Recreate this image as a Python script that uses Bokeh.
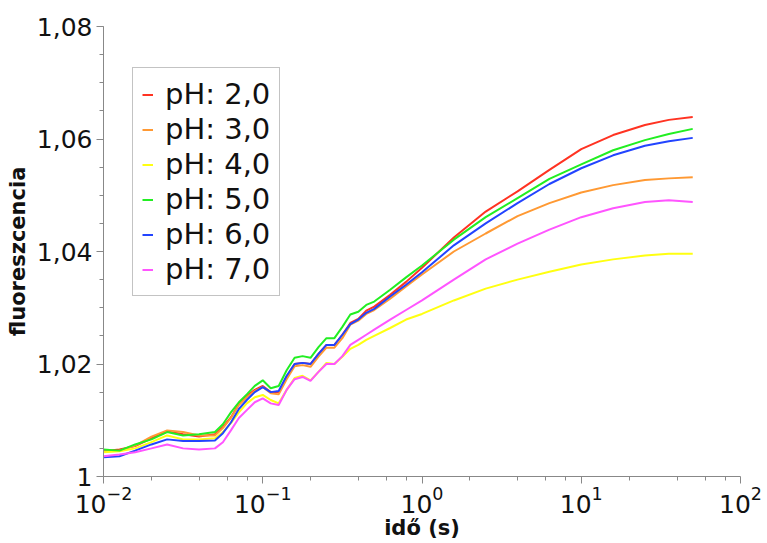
from bokeh.plotting import figure
from bokeh.models import (Range1d, FixedTicker, CustomJSTickFormatter, Legend, LegendItem,
                          LogTickFormatter, ColumnDataSource)
from bokeh.embed import file_html
from bokeh.resources import INLINE

# time axis (s)
time_s = [0.0100, 0.0126, 0.0158, 0.0200, 0.0251, 0.0316, 0.0398, 0.0501, 0.0562, 0.0631,
          0.0708, 0.0794, 0.0891, 0.1000, 0.1122, 0.1259, 0.1413, 0.1585, 0.1778, 0.1995,
          0.2239, 0.2512, 0.2818, 0.3162, 0.3548, 0.3981, 0.4467, 0.5012, 0.6310, 0.7943,
          1.0000, 1.585, 2.512, 3.981, 6.310, 10.00, 15.85, 25.12, 35.48, 50.12]

ph_labels = ["pH: 2,0", "pH: 3,0", "pH: 4,0", "pH: 5,0", "pH: 6,0", "pH: 7,0"]

ph2 = [1.0045, 1.0048, 1.0054, 1.0068, 1.0080, 1.0075, 1.0071, 1.0075, 1.0088, 1.0105,
       1.0129, 1.0143, 1.0154, 1.0161, 1.0150, 1.0150, 1.0177, 1.0200, 1.0202, 1.0200,
       1.0218, 1.0234, 1.0234, 1.0252, 1.0273, 1.0280, 1.0295, 1.0302, 1.0323, 1.0346,
       1.0371, 1.0425, 1.0471, 1.0507, 1.0545, 1.0582, 1.0607, 1.0625, 1.0634, 1.0639]
ph3 = [1.0045, 1.0046, 1.0055, 1.0071, 1.0082, 1.0079, 1.0073, 1.0073, 1.0086, 1.0104,
       1.0127, 1.0141, 1.0152, 1.0159, 1.0148, 1.0146, 1.0173, 1.0196, 1.0198, 1.0195,
       1.0213, 1.0229, 1.0229, 1.0246, 1.0270, 1.0277, 1.0289, 1.0296, 1.0316, 1.0338,
       1.0359, 1.0400, 1.0432, 1.0463, 1.0486, 1.0505, 1.0518, 1.0527, 1.0530, 1.0532]
ph4 = [1.0043, 1.0045, 1.0050, 1.0061, 1.0073, 1.0066, 1.0066, 1.0068, 1.0079, 1.0095,
       1.0114, 1.0130, 1.0141, 1.0145, 1.0136, 1.0130, 1.0154, 1.0175, 1.0179, 1.0171,
       1.0186, 1.0202, 1.0200, 1.0213, 1.0227, 1.0234, 1.0243, 1.0250, 1.0264, 1.0279,
       1.0289, 1.0313, 1.0334, 1.0350, 1.0364, 1.0377, 1.0386, 1.0393, 1.0396, 1.0396]
ph5 = [1.0048, 1.0046, 1.0057, 1.0066, 1.0079, 1.0073, 1.0075, 1.0079, 1.0093, 1.0114,
       1.0132, 1.0146, 1.0161, 1.0171, 1.0157, 1.0161, 1.0189, 1.0211, 1.0214, 1.0211,
       1.0230, 1.0246, 1.0246, 1.0266, 1.0288, 1.0293, 1.0305, 1.0311, 1.0332, 1.0354,
       1.0375, 1.0421, 1.0461, 1.0495, 1.0529, 1.0555, 1.0580, 1.0598, 1.0609, 1.0618]
ph6 = [1.0034, 1.0036, 1.0046, 1.0057, 1.0066, 1.0063, 1.0063, 1.0064, 1.0077, 1.0096,
       1.0120, 1.0136, 1.0150, 1.0159, 1.0150, 1.0152, 1.0179, 1.0200, 1.0202, 1.0200,
       1.0218, 1.0234, 1.0234, 1.0252, 1.0271, 1.0279, 1.0291, 1.0298, 1.0320, 1.0341,
       1.0363, 1.0411, 1.0450, 1.0486, 1.0520, 1.0548, 1.0571, 1.0588, 1.0596, 1.0602]
ph7 = [1.0036, 1.0039, 1.0043, 1.0050, 1.0057, 1.0050, 1.0048, 1.0050, 1.0061, 1.0082,
       1.0104, 1.0118, 1.0132, 1.0139, 1.0130, 1.0127, 1.0154, 1.0173, 1.0177, 1.0170,
       1.0186, 1.0200, 1.0200, 1.0214, 1.0234, 1.0243, 1.0252, 1.0261, 1.0279, 1.0296,
       1.0313, 1.0350, 1.0386, 1.0414, 1.0439, 1.0461, 1.0477, 1.0488, 1.0491, 1.0488]

series = [ph2, ph3, ph4, ph5, ph6, ph7]
colors = ["#ff3322", "#ff9933", "#ffff11", "#22ee22", "#2244ff", "#ff55ff"]

x_ticks = [0.01, 0.1, 1, 10, 100]
x_minor = [m * d for d in [0.01, 0.1, 1, 10] for m in [2, 4, 6, 8]]
y_ticks = [1.0, 1.02, 1.04, 1.06, 1.08]
y_minor = [1.0 + 0.005 * i for i in range(17)]

FONT = "DejaVu Sans"

p = figure(frame_width=637, frame_height=450, x_axis_type="log", output_backend="svg",
           toolbar_location=None, x_range=Range1d(0.01, 100), y_range=Range1d(1.0, 1.08),
           min_border_left=103, min_border_right=27, min_border_top=26, min_border_bottom=67)
p.outline_line_color = None
p.grid.visible = False
p.background_fill_color = "white"

renderers = []
for vals, col in zip(series, colors):
    src = ColumnDataSource(dict(t=time_s, f=vals))
    r = p.line("t", "f", source=src, line_color=col, line_width=2)
    renderers.append(r)

for ax in (p.xaxis[0], p.yaxis[0]):
    ax.axis_line_color = "#888888"
    ax.major_tick_line_color = "#888888"
    ax.minor_tick_line_color = "#888888"
    ax.major_tick_out = 7
    ax.major_tick_in = 0
    ax.minor_tick_out = 4
    ax.minor_tick_in = 0
    ax.major_label_text_font = FONT
    ax.major_label_text_font_size = "25px"
    ax.major_label_text_color = "#111111"
    ax.axis_label_text_font = FONT
    ax.axis_label_text_font_size = "21px"
    ax.axis_label_text_font_style = "bold"
    ax.axis_label_text_color = "#111111"

p.xaxis[0].ticker = FixedTicker(ticks=x_ticks, minor_ticks=x_minor)
p.xaxis[0].formatter = LogTickFormatter()
p.xaxis[0].axis_label = "idő (s)"
p.xaxis[0].major_label_standoff = 2
p.xaxis[0].axis_label_standoff = 0

p.yaxis[0].ticker = FixedTicker(ticks=y_ticks, minor_ticks=y_minor)
p.yaxis[0].formatter = CustomJSTickFormatter(code="""
    if (Math.abs(tick - 1) < 1e-9) { return "1"; }
    return tick.toFixed(2).replace(".", ",");
""")
p.yaxis[0].axis_label = "fluoreszcencia"
p.yaxis[0].major_label_standoff = 4
p.yaxis[0].axis_label_standoff = 4

items = [LegendItem(label=lab, renderers=[r]) for lab, r in zip(ph_labels, renderers)]
legend = Legend(items=items, location=(29, 180))
legend.label_text_font = FONT
legend.label_text_font_size = "29px"
legend.label_text_color = "#111111"
legend.glyph_width = 11
legend.glyph_height = 31
legend.label_height = 31
legend.label_standoff = 12
legend.spacing = 1
legend.padding = 9
legend.margin = 0
legend.border_line_color = "#888888"
legend.border_line_width = 1
legend.background_fill_alpha = 1.0
p.add_layout(legend, "center")

open("out.html", "w").write(file_html(p, INLINE))
